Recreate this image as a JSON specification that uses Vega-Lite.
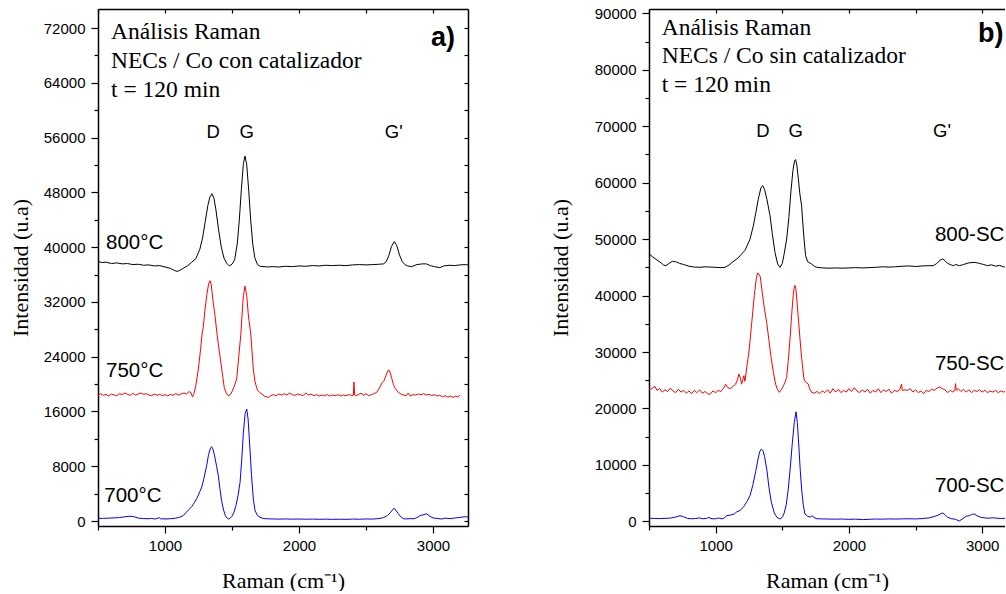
{
"$schema": "https://vega.github.io/schema/vega-lite/v6.json",
"padding": {"left": 9, "top": 6, "right": 0, "bottom": 0},
"autosize": {"type": "pad"},
"bounds": "flush",
"spacing": 181,
"config": {"view": {"stroke": null}, "background": "white"},
"datasets": {
"pa": [
{"s":"800","x":500,"y":37900},{"s":"800","x":530,"y":37750},{"s":"800","x":560,"y":37800},{"s":"800","x":600,"y":37600},{"s":"800","x":640,"y":37700},{"s":"800","x":680,"y":37550},{"s":"800","x":720,"y":37600},{"s":"800","x":760,"y":37450},{"s":"800","x":800,"y":37500},{"s":"800","x":840,"y":37350},{"s":"800","x":880,"y":37400},{"s":"800","x":920,"y":37250},{"s":"800","x":960,"y":37300},{"s":"800","x":1000,"y":37100},{"s":"800","x":1040,"y":36900},{"s":"800","x":1070,"y":36600},{"s":"800","x":1090,"y":36450},{"s":"800","x":1110,"y":36600},{"s":"800","x":1140,"y":36950},{"s":"800","x":1170,"y":37300},{"s":"800","x":1200,"y":37800},{"s":"800","x":1230,"y":38300},{"s":"800","x":1260,"y":39700},{"s":"800","x":1280,"y":41300},{"s":"800","x":1300,"y":43700},{"s":"800","x":1320,"y":46100},{"s":"800","x":1335,"y":47300},{"s":"800","x":1350,"y":47800},{"s":"800","x":1365,"y":47150},{"s":"800","x":1380,"y":45450},{"s":"800","x":1400,"y":42500},{"s":"800","x":1420,"y":40000},{"s":"800","x":1440,"y":38400},{"s":"800","x":1460,"y":37650},{"s":"800","x":1480,"y":37250},{"s":"800","x":1500,"y":37500},{"s":"800","x":1520,"y":38150},{"s":"800","x":1540,"y":40600},{"s":"800","x":1555,"y":44100},{"s":"800","x":1570,"y":48500},{"s":"800","x":1585,"y":52200},{"s":"800","x":1597,"y":53300},{"s":"800","x":1610,"y":52000},{"s":"800","x":1625,"y":48200},{"s":"800","x":1640,"y":43800},{"s":"800","x":1655,"y":40400},{"s":"800","x":1670,"y":38450},{"s":"800","x":1690,"y":37450},{"s":"800","x":1710,"y":37200},{"s":"800","x":1740,"y":37150},{"s":"800","x":1770,"y":37100},{"s":"800","x":1800,"y":37150},{"s":"800","x":1850,"y":37100},{"s":"800","x":1900,"y":37200},{"s":"800","x":1950,"y":37150},{"s":"800","x":2000,"y":37250},{"s":"800","x":2050,"y":37200},{"s":"800","x":2100,"y":37300},{"s":"800","x":2150,"y":37250},{"s":"800","x":2200,"y":37350},{"s":"800","x":2250,"y":37300},{"s":"800","x":2300,"y":37350},{"s":"800","x":2350,"y":37300},{"s":"800","x":2400,"y":37400},{"s":"800","x":2450,"y":37450},{"s":"800","x":2500,"y":37400},{"s":"800","x":2550,"y":37450},{"s":"800","x":2600,"y":37500},{"s":"800","x":2630,"y":37550},{"s":"800","x":2650,"y":37850},{"s":"800","x":2670,"y":38750},{"s":"800","x":2690,"y":40100},{"s":"800","x":2711,"y":40800},{"s":"800","x":2730,"y":40200},{"s":"800","x":2750,"y":38850},{"s":"800","x":2770,"y":37900},{"s":"800","x":2790,"y":37450},{"s":"800","x":2810,"y":37250},{"s":"800","x":2840,"y":37150},{"s":"800","x":2880,"y":37450},{"s":"800","x":2920,"y":37550},{"s":"800","x":2950,"y":37550},{"s":"800","x":2980,"y":37300},{"s":"800","x":3010,"y":37150},{"s":"800","x":3050,"y":37000},{"s":"800","x":3080,"y":37250},{"s":"800","x":3120,"y":37350},{"s":"800","x":3160,"y":37300},{"s":"800","x":3200,"y":37400},{"s":"800","x":3240,"y":37450},{"s":"800","x":3261,"y":37400},
{"s":"750","x":500,"y":18300},{"s":"750","x":520,"y":18600},{"s":"750","x":540,"y":18350},{"s":"750","x":560,"y":18500},{"s":"750","x":580,"y":18250},{"s":"750","x":600,"y":18550},{"s":"750","x":620,"y":18400},{"s":"750","x":640,"y":18300},{"s":"750","x":660,"y":18600},{"s":"750","x":680,"y":18450},{"s":"750","x":700,"y":18700},{"s":"750","x":720,"y":18500},{"s":"750","x":740,"y":18350},{"s":"750","x":760,"y":18650},{"s":"750","x":780,"y":18400},{"s":"750","x":800,"y":18550},{"s":"750","x":820,"y":18700},{"s":"750","x":840,"y":18500},{"s":"750","x":860,"y":18600},{"s":"750","x":880,"y":18400},{"s":"750","x":900,"y":18300},{"s":"750","x":920,"y":18550},{"s":"750","x":940,"y":18350},{"s":"750","x":960,"y":18500},{"s":"750","x":980,"y":18300},{"s":"750","x":1000,"y":18450},{"s":"750","x":1020,"y":18250},{"s":"750","x":1040,"y":18500},{"s":"750","x":1060,"y":18350},{"s":"750","x":1080,"y":18600},{"s":"750","x":1100,"y":18400},{"s":"750","x":1120,"y":18550},{"s":"750","x":1140,"y":18700},{"s":"750","x":1160,"y":18550},{"s":"750","x":1180,"y":18900},{"s":"750","x":1195,"y":18700},{"s":"750","x":1205,"y":18100},{"s":"750","x":1215,"y":18500},{"s":"750","x":1230,"y":19800},{"s":"750","x":1249,"y":22200},{"s":"750","x":1265,"y":25000},{"s":"750","x":1278,"y":27600},{"s":"750","x":1285,"y":28200},{"s":"750","x":1298,"y":30800},{"s":"750","x":1311,"y":32900},{"s":"750","x":1325,"y":34600},{"s":"750","x":1336,"y":35100},{"s":"750","x":1345,"y":34500},{"s":"750","x":1358,"y":32200},{"s":"750","x":1373,"y":30000},{"s":"750","x":1390,"y":27000},{"s":"750","x":1410,"y":24100},{"s":"750","x":1428,"y":21500},{"s":"750","x":1442,"y":19500},{"s":"750","x":1457,"y":18700},{"s":"750","x":1472,"y":18300},{"s":"750","x":1487,"y":18450},{"s":"750","x":1500,"y":18900},{"s":"750","x":1515,"y":19600},{"s":"750","x":1535,"y":20750},{"s":"750","x":1550,"y":23900},{"s":"750","x":1565,"y":27100},{"s":"750","x":1578,"y":31000},{"s":"750","x":1585,"y":32900},{"s":"750","x":1597,"y":34300},{"s":"750","x":1610,"y":32900},{"s":"750","x":1620,"y":30500},{"s":"750","x":1627,"y":29250},{"s":"750","x":1640,"y":27300},{"s":"750","x":1647,"y":25400},{"s":"750","x":1659,"y":22200},{"s":"750","x":1672,"y":20300},{"s":"750","x":1690,"y":19100},{"s":"750","x":1705,"y":18800},{"s":"750","x":1722,"y":18550},{"s":"750","x":1745,"y":18200},{"s":"750","x":1771,"y":18050},{"s":"750","x":1790,"y":18300},{"s":"750","x":1810,"y":18450},{"s":"750","x":1830,"y":18300},{"s":"750","x":1850,"y":18550},{"s":"750","x":1870,"y":18400},{"s":"750","x":1890,"y":18600},{"s":"750","x":1910,"y":18400},{"s":"750","x":1930,"y":18700},{"s":"750","x":1950,"y":18450},{"s":"750","x":1970,"y":18350},{"s":"750","x":1990,"y":18550},{"s":"750","x":2010,"y":18450},{"s":"750","x":2030,"y":18300},{"s":"750","x":2050,"y":18700},{"s":"750","x":2070,"y":18400},{"s":"750","x":2090,"y":18550},{"s":"750","x":2110,"y":18300},{"s":"750","x":2130,"y":18450},{"s":"750","x":2150,"y":18250},{"s":"750","x":2170,"y":18400},{"s":"750","x":2190,"y":18300},{"s":"750","x":2210,"y":18450},{"s":"750","x":2230,"y":18250},{"s":"750","x":2250,"y":18400},{"s":"750","x":2270,"y":18300},{"s":"750","x":2290,"y":18450},{"s":"750","x":2310,"y":18250},{"s":"750","x":2330,"y":18400},{"s":"750","x":2350,"y":18300},{"s":"750","x":2370,"y":18450},{"s":"750","x":2390,"y":18350},{"s":"750","x":2405,"y":18350},{"s":"750","x":2410,"y":20300},{"s":"750","x":2415,"y":18400},{"s":"750","x":2430,"y":18300},{"s":"750","x":2450,"y":18550},{"s":"750","x":2470,"y":18650},{"s":"750","x":2480,"y":18350},{"s":"750","x":2500,"y":18600},{"s":"750","x":2520,"y":18300},{"s":"750","x":2540,"y":18450},{"s":"750","x":2560,"y":18600},{"s":"750","x":2580,"y":18800},{"s":"750","x":2600,"y":19400},{"s":"750","x":2620,"y":20200},{"s":"750","x":2634,"y":20500},{"s":"750","x":2650,"y":21300},{"s":"750","x":2665,"y":22000},{"s":"750","x":2675,"y":22000},{"s":"750","x":2690,"y":21000},{"s":"750","x":2705,"y":19900},{"s":"750","x":2720,"y":19300},{"s":"750","x":2741,"y":18800},{"s":"750","x":2760,"y":18550},{"s":"750","x":2780,"y":18400},{"s":"750","x":2800,"y":18300},{"s":"750","x":2815,"y":18700},{"s":"750","x":2830,"y":18250},{"s":"750","x":2850,"y":18450},{"s":"750","x":2870,"y":18400},{"s":"750","x":2890,"y":18550},{"s":"750","x":2910,"y":18450},{"s":"750","x":2930,"y":18600},{"s":"750","x":2950,"y":18400},{"s":"750","x":2970,"y":18500},{"s":"750","x":2990,"y":18300},{"s":"750","x":3010,"y":18450},{"s":"750","x":3030,"y":18250},{"s":"750","x":3050,"y":18350},{"s":"750","x":3070,"y":18150},{"s":"750","x":3090,"y":18300},{"s":"750","x":3110,"y":18100},{"s":"750","x":3130,"y":18250},{"s":"750","x":3150,"y":18050},{"s":"750","x":3170,"y":18250},{"s":"750","x":3185,"y":18100},{"s":"750","x":3200,"y":18400},
{"s":"700","x":500,"y":390},{"s":"700","x":540,"y":380},{"s":"700","x":580,"y":420},{"s":"700","x":620,"y":450},{"s":"700","x":660,"y":500},{"s":"700","x":700,"y":620},{"s":"700","x":739,"y":700},{"s":"700","x":770,"y":620},{"s":"700","x":800,"y":430},{"s":"700","x":840,"y":350},{"s":"700","x":880,"y":330},{"s":"700","x":900,"y":380},{"s":"700","x":920,"y":300},{"s":"700","x":940,"y":350},{"s":"700","x":955,"y":520},{"s":"700","x":965,"y":330},{"s":"700","x":1000,"y":300},{"s":"700","x":1040,"y":330},{"s":"700","x":1080,"y":420},{"s":"700","x":1110,"y":550},{"s":"700","x":1137,"y":800},{"s":"700","x":1160,"y":1300},{"s":"700","x":1180,"y":1700},{"s":"700","x":1199,"y":2100},{"s":"700","x":1220,"y":2700},{"s":"700","x":1240,"y":3400},{"s":"700","x":1260,"y":4300},{"s":"700","x":1274,"y":4950},{"s":"700","x":1290,"y":6200},{"s":"700","x":1311,"y":8100},{"s":"700","x":1325,"y":9700},{"s":"700","x":1340,"y":10700},{"s":"700","x":1348,"y":10850},{"s":"700","x":1358,"y":10500},{"s":"700","x":1370,"y":9500},{"s":"700","x":1385,"y":8000},{"s":"700","x":1398,"y":6600},{"s":"700","x":1410,"y":4700},{"s":"700","x":1422,"y":3000},{"s":"700","x":1435,"y":1750},{"s":"700","x":1450,"y":800},{"s":"700","x":1465,"y":400},{"s":"700","x":1473,"y":290},{"s":"700","x":1485,"y":400},{"s":"700","x":1500,"y":700},{"s":"700","x":1515,"y":1300},{"s":"700","x":1530,"y":2300},{"s":"700","x":1545,"y":3700},{"s":"700","x":1560,"y":5650},{"s":"700","x":1572,"y":8800},{"s":"700","x":1585,"y":12950},{"s":"700","x":1598,"y":15700},{"s":"700","x":1610,"y":16350},{"s":"700","x":1620,"y":14900},{"s":"700","x":1634,"y":10500},{"s":"700","x":1645,"y":6800},{"s":"700","x":1659,"y":3200},{"s":"700","x":1672,"y":1500},{"s":"700","x":1690,"y":800},{"s":"700","x":1709,"y":540},{"s":"700","x":1730,"y":380},{"s":"700","x":1760,"y":320},{"s":"700","x":1800,"y":300},{"s":"700","x":1850,"y":280},{"s":"700","x":1900,"y":300},{"s":"700","x":1950,"y":270},{"s":"700","x":2000,"y":290},{"s":"700","x":2050,"y":260},{"s":"700","x":2100,"y":280},{"s":"700","x":2150,"y":250},{"s":"700","x":2200,"y":270},{"s":"700","x":2250,"y":240},{"s":"700","x":2300,"y":260},{"s":"700","x":2350,"y":240},{"s":"700","x":2400,"y":280},{"s":"700","x":2450,"y":260},{"s":"700","x":2500,"y":300},{"s":"700","x":2550,"y":280},{"s":"700","x":2580,"y":330},{"s":"700","x":2604,"y":380},{"s":"700","x":2630,"y":500},{"s":"700","x":2660,"y":800},{"s":"700","x":2685,"y":1300},{"s":"700","x":2700,"y":1700},{"s":"700","x":2711,"y":1850},{"s":"700","x":2725,"y":1500},{"s":"700","x":2740,"y":1100},{"s":"700","x":2760,"y":600},{"s":"700","x":2778,"y":340},{"s":"700","x":2800,"y":300},{"s":"700","x":2830,"y":350},{"s":"700","x":2860,"y":330},{"s":"700","x":2880,"y":500},{"s":"700","x":2903,"y":780},{"s":"700","x":2925,"y":900},{"s":"700","x":2952,"y":1050},{"s":"700","x":2975,"y":700},{"s":"700","x":3000,"y":450},{"s":"700","x":3030,"y":380},{"s":"700","x":3065,"y":290},{"s":"700","x":3090,"y":420},{"s":"700","x":3120,"y":350},{"s":"700","x":3150,"y":400},{"s":"700","x":3180,"y":480},{"s":"700","x":3210,"y":550},{"s":"700","x":3240,"y":630},{"s":"700","x":3261,"y":580}
],
"pb": [
{"s":"800","x":500,"y":47400},{"s":"800","x":530,"y":46800},{"s":"800","x":560,"y":46300},{"s":"800","x":590,"y":45800},{"s":"800","x":610,"y":45400},{"s":"800","x":627,"y":45290},{"s":"800","x":650,"y":45700},{"s":"800","x":675,"y":46070},{"s":"800","x":700,"y":46000},{"s":"800","x":730,"y":45700},{"s":"800","x":760,"y":45500},{"s":"800","x":800,"y":45200},{"s":"800","x":840,"y":45050},{"s":"800","x":883,"y":45010},{"s":"800","x":920,"y":45100},{"s":"800","x":960,"y":45050},{"s":"800","x":1000,"y":45000},{"s":"800","x":1040,"y":44950},{"s":"800","x":1070,"y":45010},{"s":"800","x":1100,"y":45400},{"s":"800","x":1130,"y":46000},{"s":"800","x":1160,"y":46500},{"s":"800","x":1183,"y":47060},{"s":"800","x":1220,"y":48000},{"s":"800","x":1258,"y":50000},{"s":"800","x":1283,"y":52400},{"s":"800","x":1300,"y":54500},{"s":"800","x":1320,"y":57100},{"s":"800","x":1340,"y":59100},{"s":"800","x":1353,"y":59500},{"s":"800","x":1367,"y":58800},{"s":"800","x":1385,"y":57000},{"s":"800","x":1408,"y":54150},{"s":"800","x":1425,"y":51000},{"s":"800","x":1445,"y":47660},{"s":"800","x":1465,"y":45600},{"s":"800","x":1483,"y":45000},{"s":"800","x":1500,"y":45700},{"s":"800","x":1515,"y":47500},{"s":"800","x":1533,"y":50020},{"s":"800","x":1550,"y":54000},{"s":"800","x":1565,"y":58500},{"s":"800","x":1580,"y":62200},{"s":"800","x":1592,"y":63900},{"s":"800","x":1600,"y":64100},{"s":"800","x":1610,"y":63000},{"s":"800","x":1620,"y":60800},{"s":"800","x":1632,"y":58000},{"s":"800","x":1645,"y":55900},{"s":"800","x":1655,"y":52500},{"s":"800","x":1665,"y":49500},{"s":"800","x":1675,"y":47100},{"s":"800","x":1690,"y":46000},{"s":"800","x":1705,"y":45800},{"s":"800","x":1720,"y":45600},{"s":"800","x":1740,"y":45200},{"s":"800","x":1760,"y":45000},{"s":"800","x":1800,"y":44900},{"s":"800","x":1850,"y":44850},{"s":"800","x":1900,"y":44900},{"s":"800","x":1950,"y":44850},{"s":"800","x":2000,"y":44900},{"s":"800","x":2050,"y":44950},{"s":"800","x":2100,"y":44900},{"s":"800","x":2150,"y":44950},{"s":"800","x":2200,"y":45000},{"s":"800","x":2250,"y":45100},{"s":"800","x":2300,"y":45050},{"s":"800","x":2350,"y":45100},{"s":"800","x":2400,"y":45200},{"s":"800","x":2450,"y":45250},{"s":"800","x":2500,"y":45150},{"s":"800","x":2550,"y":45250},{"s":"800","x":2600,"y":45300},{"s":"800","x":2633,"y":45290},{"s":"800","x":2660,"y":45700},{"s":"800","x":2685,"y":46300},{"s":"800","x":2703,"y":46480},{"s":"800","x":2720,"y":46200},{"s":"800","x":2740,"y":45700},{"s":"800","x":2760,"y":45500},{"s":"800","x":2783,"y":45290},{"s":"800","x":2800,"y":45500},{"s":"800","x":2830,"y":45300},{"s":"800","x":2860,"y":45500},{"s":"800","x":2900,"y":45800},{"s":"800","x":2946,"y":45880},{"s":"800","x":2980,"y":45700},{"s":"800","x":3010,"y":45500},{"s":"800","x":3040,"y":45300},{"s":"800","x":3070,"y":45450},{"s":"800","x":3100,"y":45200},{"s":"800","x":3130,"y":45350},{"s":"800","x":3160,"y":45100},{"s":"800","x":3190,"y":45010},{"s":"800","x":3276,"y":45100},
{"s":"750","x":500,"y":23300},{"s":"750","x":520,"y":23500},{"s":"750","x":545,"y":23900},{"s":"750","x":560,"y":23200},{"s":"750","x":580,"y":23500},{"s":"750","x":600,"y":22900},{"s":"750","x":620,"y":23300},{"s":"750","x":640,"y":23000},{"s":"750","x":660,"y":23600},{"s":"750","x":680,"y":23100},{"s":"750","x":700,"y":22800},{"s":"750","x":720,"y":23400},{"s":"750","x":740,"y":22900},{"s":"750","x":760,"y":23200},{"s":"750","x":780,"y":22700},{"s":"750","x":800,"y":23100},{"s":"750","x":820,"y":22600},{"s":"750","x":840,"y":23200},{"s":"750","x":860,"y":22800},{"s":"750","x":880,"y":23300},{"s":"750","x":900,"y":22700},{"s":"750","x":920,"y":23000},{"s":"750","x":940,"y":22600},{"s":"750","x":958,"y":22500},{"s":"750","x":980,"y":23100},{"s":"750","x":1000,"y":22800},{"s":"750","x":1020,"y":23200},{"s":"750","x":1040,"y":23000},{"s":"750","x":1060,"y":23600},{"s":"750","x":1075,"y":24300},{"s":"750","x":1090,"y":23700},{"s":"750","x":1110,"y":23500},{"s":"750","x":1130,"y":23900},{"s":"750","x":1150,"y":24300},{"s":"750","x":1165,"y":25200},{"s":"750","x":1175,"y":26100},{"s":"750","x":1185,"y":25400},{"s":"750","x":1195,"y":24300},{"s":"750","x":1205,"y":25200},{"s":"750","x":1212,"y":25800},{"s":"750","x":1220,"y":24800},{"s":"750","x":1235,"y":27500},{"s":"750","x":1252,"y":30500},{"s":"750","x":1270,"y":35000},{"s":"750","x":1290,"y":40000},{"s":"750","x":1305,"y":43000},{"s":"750","x":1315,"y":44000},{"s":"750","x":1325,"y":43800},{"s":"750","x":1335,"y":43300},{"s":"750","x":1350,"y":40500},{"s":"750","x":1365,"y":37800},{"s":"750","x":1383,"y":35260},{"s":"750","x":1400,"y":32000},{"s":"750","x":1415,"y":29200},{"s":"750","x":1433,"y":26400},{"s":"750","x":1450,"y":24300},{"s":"750","x":1465,"y":23300},{"s":"750","x":1478,"y":22860},{"s":"750","x":1495,"y":23400},{"s":"750","x":1510,"y":24100},{"s":"750","x":1520,"y":24600},{"s":"750","x":1533,"y":25520},{"s":"750","x":1545,"y":28500},{"s":"750","x":1558,"y":32300},{"s":"750","x":1570,"y":36500},{"s":"750","x":1582,"y":40000},{"s":"750","x":1590,"y":41500},{"s":"750","x":1595,"y":41800},{"s":"750","x":1602,"y":41200},{"s":"750","x":1612,"y":38500},{"s":"750","x":1622,"y":35500},{"s":"750","x":1633,"y":32300},{"s":"750","x":1645,"y":29000},{"s":"750","x":1655,"y":26800},{"s":"750","x":1663,"y":25220},{"s":"750","x":1675,"y":24700},{"s":"750","x":1685,"y":24500},{"s":"750","x":1695,"y":24330},{"s":"750","x":1705,"y":23500},{"s":"750","x":1720,"y":22860},{"s":"750","x":1740,"y":22700},{"s":"750","x":1760,"y":23000},{"s":"750","x":1780,"y":22600},{"s":"750","x":1800,"y":23100},{"s":"750","x":1820,"y":22800},{"s":"750","x":1840,"y":23300},{"s":"750","x":1860,"y":22700},{"s":"750","x":1880,"y":23500},{"s":"750","x":1900,"y":22900},{"s":"750","x":1920,"y":23400},{"s":"750","x":1940,"y":22800},{"s":"750","x":1960,"y":23200},{"s":"750","x":1980,"y":22900},{"s":"750","x":2000,"y":23500},{"s":"750","x":2020,"y":23000},{"s":"750","x":2040,"y":23700},{"s":"750","x":2060,"y":23100},{"s":"750","x":2080,"y":22800},{"s":"750","x":2100,"y":23300},{"s":"750","x":2120,"y":22900},{"s":"750","x":2140,"y":23400},{"s":"750","x":2160,"y":22700},{"s":"750","x":2180,"y":23200},{"s":"750","x":2200,"y":22900},{"s":"750","x":2220,"y":23500},{"s":"750","x":2240,"y":22800},{"s":"750","x":2260,"y":23300},{"s":"750","x":2280,"y":23000},{"s":"750","x":2300,"y":23400},{"s":"750","x":2320,"y":22700},{"s":"750","x":2340,"y":23200},{"s":"750","x":2360,"y":23000},{"s":"750","x":2380,"y":23300},{"s":"750","x":2395,"y":24300},{"s":"750","x":2400,"y":23200},{"s":"750","x":2420,"y":23300},{"s":"750","x":2440,"y":23200},{"s":"750","x":2460,"y":23500},{"s":"750","x":2480,"y":22900},{"s":"750","x":2500,"y":23300},{"s":"750","x":2520,"y":22800},{"s":"750","x":2540,"y":23100},{"s":"750","x":2560,"y":22600},{"s":"750","x":2580,"y":23200},{"s":"750","x":2600,"y":23000},{"s":"750","x":2620,"y":23400},{"s":"750","x":2640,"y":23200},{"s":"750","x":2660,"y":23600},{"s":"750","x":2680,"y":23800},{"s":"750","x":2700,"y":23500},{"s":"750","x":2720,"y":23300},{"s":"750","x":2740,"y":22800},{"s":"750","x":2760,"y":23200},{"s":"750","x":2780,"y":22900},{"s":"750","x":2795,"y":23300},{"s":"750","x":2800,"y":24400},{"s":"750","x":2805,"y":23200},{"s":"750","x":2820,"y":23500},{"s":"750","x":2840,"y":23000},{"s":"750","x":2860,"y":23400},{"s":"750","x":2880,"y":22900},{"s":"750","x":2900,"y":23300},{"s":"750","x":2920,"y":22800},{"s":"750","x":2940,"y":23200},{"s":"750","x":2960,"y":23000},{"s":"750","x":2980,"y":23300},{"s":"750","x":3000,"y":22900},{"s":"750","x":3020,"y":23200},{"s":"750","x":3040,"y":22800},{"s":"750","x":3060,"y":23100},{"s":"750","x":3080,"y":22900},{"s":"750","x":3100,"y":23200},{"s":"750","x":3120,"y":22800},{"s":"750","x":3140,"y":23100},{"s":"750","x":3160,"y":22900},{"s":"750","x":3180,"y":23100},{"s":"750","x":3200,"y":23000},{"s":"750","x":3276,"y":23000},
{"s":"700","x":500,"y":550},{"s":"700","x":540,"y":500},{"s":"700","x":580,"y":480},{"s":"700","x":620,"y":520},{"s":"700","x":660,"y":560},{"s":"700","x":700,"y":750},{"s":"700","x":732,"y":1000},{"s":"700","x":760,"y":800},{"s":"700","x":790,"y":500},{"s":"700","x":820,"y":450},{"s":"700","x":850,"y":500},{"s":"700","x":880,"y":600},{"s":"700","x":900,"y":450},{"s":"700","x":930,"y":500},{"s":"700","x":950,"y":700},{"s":"700","x":965,"y":450},{"s":"700","x":1000,"y":450},{"s":"700","x":1020,"y":600},{"s":"700","x":1040,"y":450},{"s":"700","x":1060,"y":500},{"s":"700","x":1083,"y":1000},{"s":"700","x":1110,"y":1100},{"s":"700","x":1140,"y":1300},{"s":"700","x":1160,"y":1700},{"s":"700","x":1183,"y":1900},{"s":"700","x":1210,"y":2600},{"s":"700","x":1235,"y":3500},{"s":"700","x":1258,"y":4540},{"s":"700","x":1280,"y":6500},{"s":"700","x":1300,"y":8800},{"s":"700","x":1318,"y":11000},{"s":"700","x":1330,"y":12300},{"s":"700","x":1343,"y":12800},{"s":"700","x":1355,"y":12500},{"s":"700","x":1367,"y":11500},{"s":"700","x":1385,"y":8970},{"s":"700","x":1400,"y":6000},{"s":"700","x":1418,"y":3370},{"s":"700","x":1440,"y":1500},{"s":"700","x":1460,"y":700},{"s":"700","x":1483,"y":410},{"s":"700","x":1500,"y":700},{"s":"700","x":1515,"y":1500},{"s":"700","x":1530,"y":3000},{"s":"700","x":1545,"y":5720},{"s":"700","x":1560,"y":9500},{"s":"700","x":1575,"y":13800},{"s":"700","x":1590,"y":17500},{"s":"700","x":1603,"y":19400},{"s":"700","x":1613,"y":17500},{"s":"700","x":1625,"y":13000},{"s":"700","x":1635,"y":9000},{"s":"700","x":1645,"y":5720},{"s":"700","x":1657,"y":3000},{"s":"700","x":1670,"y":1290},{"s":"700","x":1690,"y":900},{"s":"700","x":1710,"y":750},{"s":"700","x":1725,"y":1000},{"s":"700","x":1735,"y":700},{"s":"700","x":1760,"y":450},{"s":"700","x":1800,"y":420},{"s":"700","x":1850,"y":400},{"s":"700","x":1900,"y":380},{"s":"700","x":1950,"y":400},{"s":"700","x":2000,"y":350},{"s":"700","x":2050,"y":380},{"s":"700","x":2100,"y":300},{"s":"700","x":2150,"y":350},{"s":"700","x":2200,"y":400},{"s":"700","x":2250,"y":380},{"s":"700","x":2300,"y":420},{"s":"700","x":2350,"y":400},{"s":"700","x":2400,"y":430},{"s":"700","x":2450,"y":450},{"s":"700","x":2500,"y":420},{"s":"700","x":2550,"y":480},{"s":"700","x":2600,"y":600},{"s":"700","x":2640,"y":850},{"s":"700","x":2670,"y":1100},{"s":"700","x":2690,"y":1350},{"s":"700","x":2703,"y":1470},{"s":"700","x":2720,"y":1200},{"s":"700","x":2740,"y":700},{"s":"700","x":2770,"y":450},{"s":"700","x":2800,"y":350},{"s":"700","x":2828,"y":50},{"s":"700","x":2850,"y":400},{"s":"700","x":2880,"y":900},{"s":"700","x":2905,"y":1000},{"s":"700","x":2920,"y":1200},{"s":"700","x":2940,"y":1300},{"s":"700","x":2960,"y":1000},{"s":"700","x":2990,"y":700},{"s":"700","x":3020,"y":600},{"s":"700","x":3050,"y":550},{"s":"700","x":3080,"y":620},{"s":"700","x":3110,"y":550},{"s":"700","x":3140,"y":500},{"s":"700","x":3178,"y":530},{"s":"700","x":3276,"y":500}
]
},
"hconcat": [
{
"width": 370, "height": 517,
"layer": [
{"data": {"name": "pa"}, "mark": {"type": "line", "strokeWidth": 1, "clip": true},
 "encoding": {
  "x": {"field": "x", "type": "quantitative", "scale": {"domain": [500, 3261], "nice": false, "zero": false},
   "axis": {"orient": "bottom", "values": [500,1000,1500,2000,2500,3000], "format": "d", "labelExpr": "datum.value % 1000 === 0 ? datum.label : ''",
    "tickSize": {"condition": {"test": "datum.value % 1000 !== 0", "value": 4}, "value": 7},
    "grid": false, "domainColor": "black", "domainWidth": 1.5, "tickColor": "black", "tickWidth": 1.2,
    "labelFont": "Liberation Sans", "labelFontSize": 15, "labelColor": "black", "labelPadding": 5, "labelFlush": false, "labelOverlap": false,
    "title": "Raman (cm⁻¹)", "titleFont": "Liberation Serif", "titleFontSize": 22, "titleFontWeight": "normal", "titleColor": "black", "titleBaseline": "alphabetic", "titleY": 61}},
  "y": {"field": "y", "type": "quantitative", "scale": {"domain": [-730, 74775], "nice": false, "zero": false},
   "axis": {"orient": "left", "values": [0,4000,8000,12000,16000,20000,24000,28000,32000,36000,40000,44000,48000,52000,56000,60000,64000,68000,72000], "format": "d", "labelExpr": "datum.value % 8000 === 0 ? datum.label : ''",
    "tickSize": {"condition": {"test": "datum.value % 8000 !== 0", "value": 4}, "value": 7},
    "grid": false, "domainColor": "black", "domainWidth": 1.5, "tickColor": "black", "tickWidth": 1.2,
    "labelFont": "Liberation Sans", "labelFontSize": 15, "labelColor": "black", "labelPadding": 6, "labelFlush": false, "labelOverlap": false,
    "title": "Intensidad (u.a)", "titleFont": "Liberation Serif", "titleFontSize": 22, "titleFontWeight": "normal", "titleColor": "black", "titleBaseline": "alphabetic", "titleAngle": -90, "titleX": -71}},
  "color": {"field": "s", "type": "nominal", "scale": {"domain": ["800","750","700"], "range": ["#000000","#ff0000","#0000ff"]}, "legend": null}
 }},
{"data": {"values": [{"t":"Análisis Raman","x":597,"y":70400},{"t":"NECs / Co con catalizador","x":597,"y":66160},{"t":"t = 120 min","x":597,"y":61920}]},
 "mark": {"type": "text", "align": "left", "baseline": "alphabetic", "font": "Liberation Serif", "fontSize": 23.5, "color": "black"},
 "encoding": {
  "x": {"field": "x", "type": "quantitative", "axis": {"orient": "top", "values": [500,1000,1500,2000,2500,3000], "labels": false, "tickSize": -4, "title": null, "grid": false, "domainColor": "black", "domainWidth": 1.5, "tickColor": "black", "tickWidth": 1.2}},
  "y": {"field": "y", "type": "quantitative", "axis": {"orient": "right", "values": [0,4000,8000,12000,16000,20000,24000,28000,32000,36000,40000,44000,48000,52000,56000,60000,64000,68000,72000], "labels": false, "tickSize": -4, "title": null, "grid": false, "domainColor": "black", "domainWidth": 1.5, "tickColor": "black", "tickWidth": 1.2}},
  "text": {"field": "t"}
 }},
{"data": {"values": [{"t":"a)","x":3164,"y":69420}]},
 "mark": {"type": "text", "align": "right", "baseline": "alphabetic", "font": "Liberation Sans", "fontSize": 27, "fontWeight": "bold", "color": "black"},
 "encoding": {"x": {"field": "x", "type": "quantitative", "axis": null}, "y": {"field": "y", "type": "quantitative", "axis": null}, "text": {"field": "t"}}},
{"data": {"values": [{"t":"D","x":1360,"y":55890},{"t":"G","x":1610,"y":55890},{"t":"G'","x":2707,"y":55890}]},
 "mark": {"type": "text", "align": "center", "baseline": "alphabetic", "font": "Liberation Sans", "fontSize": 18.5, "color": "black"},
 "encoding": {"x": {"field": "x", "type": "quantitative", "axis": null}, "y": {"field": "y", "type": "quantitative", "axis": null}, "text": {"field": "t"}}},
{"data": {"values": [{"t":"800°C","x":560,"y":39730},{"t":"750°C","x":560,"y":20990},{"t":"700°C","x":547,"y":2730}]},
 "mark": {"type": "text", "align": "left", "baseline": "alphabetic", "font": "Liberation Sans", "fontSize": 20.5, "color": "black"},
 "encoding": {"x": {"field": "x", "type": "quantitative", "axis": null}, "y": {"field": "y", "type": "quantitative", "axis": null}, "text": {"field": "t"}}}
]
},
{
"width": 356, "height": 517,
"layer": [
{"data": {"name": "pb"}, "mark": {"type": "line", "strokeWidth": 1, "clip": true},
 "encoding": {
  "x": {"field": "x", "type": "quantitative", "scale": {"domain": [500, 3171], "nice": false, "zero": false},
   "axis": {"orient": "bottom", "values": [500,1000,1500,2000,2500,3000], "format": "d", "labelExpr": "datum.value % 1000 === 0 ? datum.label : ''",
    "tickSize": {"condition": {"test": "datum.value % 1000 !== 0", "value": 4}, "value": 7},
    "grid": false, "domainColor": "black", "domainWidth": 1.5, "tickColor": "black", "tickWidth": 1.2,
    "labelFont": "Liberation Sans", "labelFontSize": 15, "labelColor": "black", "labelPadding": 5, "labelFlush": false, "labelOverlap": false,
    "title": "Raman (cm⁻¹)", "titleFont": "Liberation Serif", "titleFontSize": 22, "titleFontWeight": "normal", "titleColor": "black", "titleBaseline": "alphabetic", "titleY": 61}},
  "y": {"field": "y", "type": "quantitative", "scale": {"domain": [-833, 90780], "nice": false, "zero": false},
   "axis": {"orient": "left", "values": [0,5000,10000,15000,20000,25000,30000,35000,40000,45000,50000,55000,60000,65000,70000,75000,80000,85000,90000], "format": "d", "labelExpr": "datum.value % 10000 === 0 ? datum.label : ''",
    "tickSize": {"condition": {"test": "datum.value % 10000 !== 0", "value": 4}, "value": 7},
    "grid": false, "domainColor": "black", "domainWidth": 1.5, "tickColor": "black", "tickWidth": 1.2,
    "labelFont": "Liberation Sans", "labelFontSize": 15, "labelColor": "black", "labelPadding": 6, "labelFlush": false, "labelOverlap": false,
    "title": "Intensidad (u.a)", "titleFont": "Liberation Serif", "titleFontSize": 22, "titleFontWeight": "normal", "titleColor": "black", "titleBaseline": "alphabetic", "titleAngle": -90, "titleX": -82}},
  "color": {"field": "s", "type": "nominal", "scale": {"domain": ["800","750","700"], "range": ["#000000","#ff0000","#0000ff"]}, "legend": null}
 }},
{"data": {"values": [{"t":"Análisis Raman","x":595,"y":86230},{"t":"NECs / Co sin catalizador","x":595,"y":81160},{"t":"t = 120 min","x":595,"y":76020}]},
 "mark": {"type": "text", "align": "left", "baseline": "alphabetic", "font": "Liberation Serif", "fontSize": 23.5, "color": "black"},
 "encoding": {
  "x": {"field": "x", "type": "quantitative", "axis": {"orient": "top", "values": [500,1000,1500,2000,2500,3000], "labels": false, "tickSize": -4, "title": null, "grid": false, "domainColor": "black", "domainWidth": 1.5, "tickColor": "black", "tickWidth": 1.2}},
  "y": {"field": "y", "type": "quantitative", "axis": {"orient": "right", "labels": false, "ticks": false, "domain": false, "title": null, "grid": false}},
  "text": {"field": "t"}
 }},
{"data": {"values": [{"t":"b)","x":2968,"y":84880}]},
 "mark": {"type": "text", "align": "left", "baseline": "alphabetic", "font": "Liberation Sans", "fontSize": 27, "fontWeight": "bold", "color": "black", "clip": true},
 "encoding": {"x": {"field": "x", "type": "quantitative", "axis": null}, "y": {"field": "y", "type": "quantitative", "axis": null}, "text": {"field": "t"}}},
{"data": {"values": [{"t":"D","x":1355,"y":68045},{"t":"G","x":1601,"y":68045},{"t":"G'","x":2698,"y":68045}]},
 "mark": {"type": "text", "align": "center", "baseline": "alphabetic", "font": "Liberation Sans", "fontSize": 18.5, "color": "black"},
 "encoding": {"x": {"field": "x", "type": "quantitative", "axis": null}, "y": {"field": "y", "type": "quantitative", "axis": null}, "text": {"field": "t"}}},
{"data": {"values": [{"t":"800-SC","x":2645,"y":49720},{"t":"750-SC","x":2645,"y":26810},{"t":"700-SC","x":2645,"y":5140}]},
 "mark": {"type": "text", "align": "left", "baseline": "alphabetic", "font": "Liberation Sans", "fontSize": 20.5, "color": "black", "clip": true},
 "encoding": {"x": {"field": "x", "type": "quantitative", "axis": null}, "y": {"field": "y", "type": "quantitative", "axis": null}, "text": {"field": "t"}}}
]
}
]
}
